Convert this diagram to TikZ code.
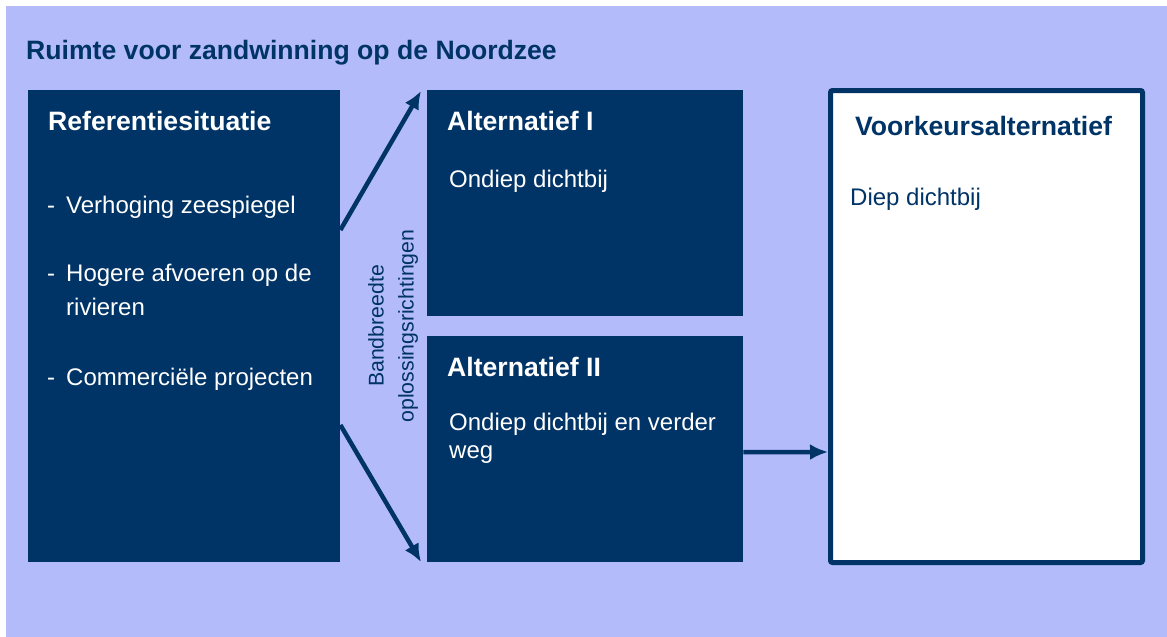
\documentclass[tikz,border=0pt]{standalone}
\usepackage{fontspec}
\setmainfont{Liberation Sans}
\usetikzlibrary{arrows.meta,positioning}
\definecolor{navy}{HTML}{003366}
\definecolor{lila}{HTML}{B3BBFA}

\begin{document}
\begin{tikzpicture}[x=1pt,y=-1pt]

        % Stijlen:
        \tikzstyle{blok}=[fill=navy, inner sep=0pt, anchor=north west,
        minimum width=316pt, minimum height=226pt]
        \tikzstyle{kop}=[anchor=base west, inner sep=0pt, text=white,
        font=\fontsize{26.6}{32}\selectfont\bfseries]
        \tikzstyle{tekst}=[anchor=base west, inner sep=0pt, text=white,
        font=\fontsize{24}{34}\selectfont]
        \tikzstyle{pijl}=[draw, line width=4.5pt, color=navy,
        -{Latex[length=18pt,width=16pt]}]

        \newcommand{\streep}[3]{%
        \node (s#1) [tekst] at (47,#2) {-};
        \node (r#1) [tekst] at (66,#2) {#3};}

        % Achtergrond:
        \useasboundingbox (0,0) rectangle (1167,637);
        \fill[lila] (6,6) rectangle (1167,637);
        \node (titel) [kop, text=navy] at (26,59) {Ruimte voor zandwinning op de Noordzee};

        % Blokken:
        \node (ref) [blok, minimum width=312pt, minimum height=472pt] at (28,90) {};
        \node (alt1) [blok] at (427,90) {};
        \node (alt2) [blok] at (427,336) {};
        \node (voork) [draw=navy, line width=5pt, fill=white, rounded corners=2pt,
        minimum width=312pt, minimum height=472pt] at (986.5,326.5) {};

        % Teksten:
        \node (refkop) [kop] at (48,130) {Referentiesituatie};
        \streep{1}{213}{Verhoging zeespiegel}
        \streep{2}{281}{Hogere afvoeren op de}
        \node (r2b) [tekst] at (66,315) {rivieren};
        \streep{3}{385}{Commerciële projecten}

        \node (kop1) [kop] at (447,130) {Alternatief I};
        \node (t1) [tekst] at (449,187) {Ondiep dichtbij};
        \node (kop2) [kop] at (447,376) {Alternatief II};
        \node (t2) [tekst] at (449,430) {Ondiep dichtbij en verder};
        \node (t2b) [tekst] at (449,458) {weg};
        \node (kopv) [kop, text=navy] at (855,135) {Voorkeursalternatief};
        \node (tv) [tekst, text=navy] at (850,205) {Diep dichtbij};

        \node (band) [rotate=90, align=center, text=navy, inner sep=0pt,
        font=\fontsize{21.3}{30}\selectfont] at (393,326)
        {Bandbreedte\\oplossingsrichtingen};

        % Pijlen:
        \coordinate (p1) at (421,91);
        \coordinate (p2) at (421,562);
        \path [pijl] (ref.north east)+(0,140) -- (p1);
        \path [pijl] (ref.north east)+(0,335) -- (p2);
        \path [pijl] (alt2.east)+(0,3) -- (voork.west |- 0,452);
\end{tikzpicture}
\end{document}
